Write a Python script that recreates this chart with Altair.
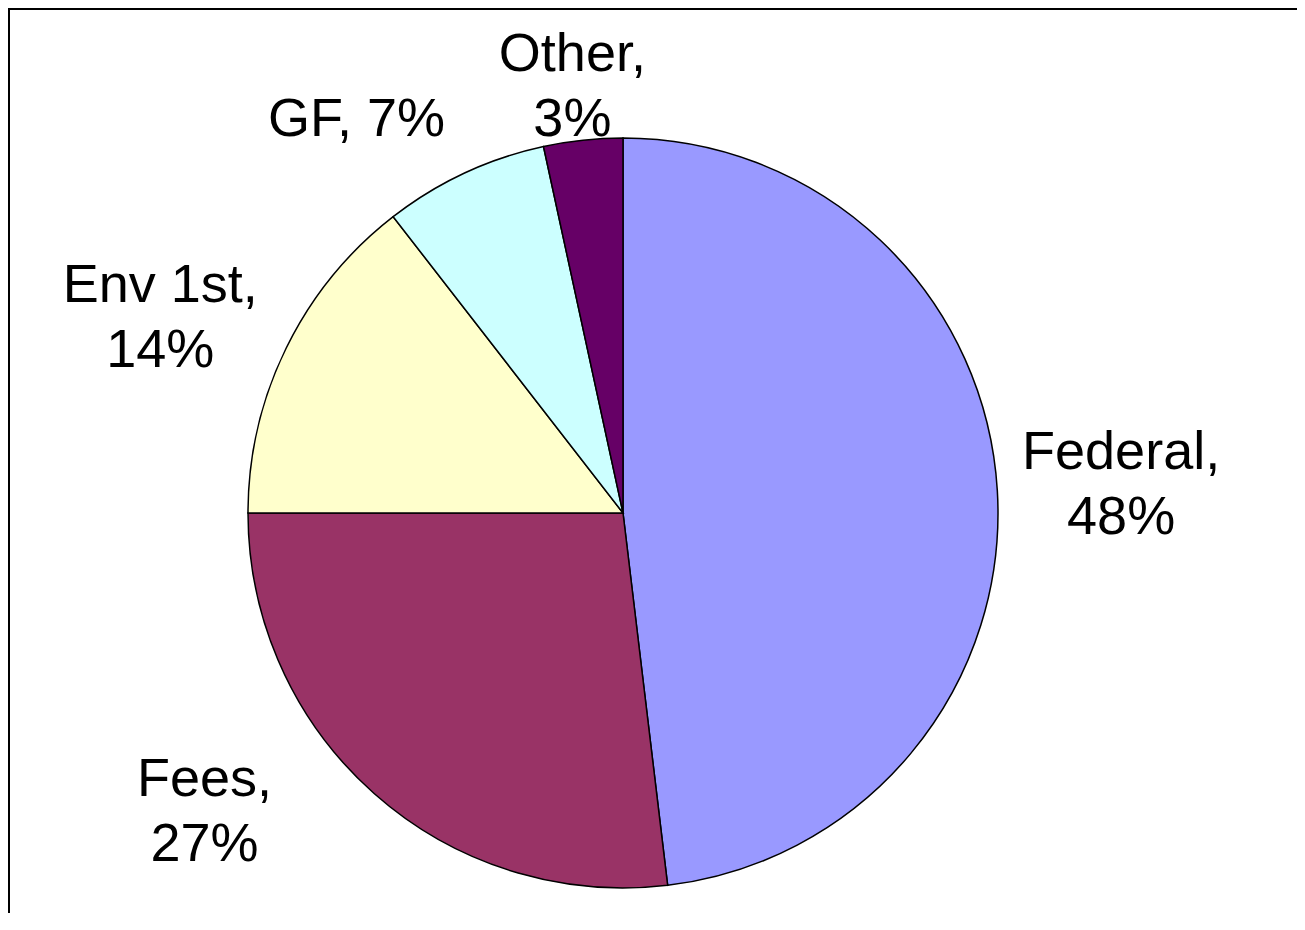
import altair as alt
import pandas as pd

categories = ["Federal", "Fees", "Env 1st", "GF", "Other"]
values = [48.1, 26.9, 14.5, 7.1, 3.4]
labels = ["Federal,\n48%", "Fees,\n27%", "Env 1st,\n14%", "GF, 7%", "Other,\n3%"]
colors = ["#9999FF", "#993366", "#FFFFCC", "#CCFFFF", "#660066"]

df = pd.DataFrame({
    "cat": categories,
    "value": values,
    "label": labels,
    "idx": list(range(len(categories))),
})

W, H = 1289, 905
CX, CY = 615, 505
R = 375
FONT = "Liberation Sans"

base = alt.Chart(df).encode(
    theta=alt.Theta("value:Q", stack=True),
    order=alt.Order("idx:Q"),
)

pie = base.mark_arc(radius=R, stroke="black", strokeWidth=1.5).encode(
    x=alt.value(CX),
    y=alt.value(CY),
    color=alt.Color("cat:N", scale=alt.Scale(domain=categories, range=colors), legend=None),
)

# label layout: (radius, dx, dy)
layout = {
    "Federal": (499, 0, -30),
    "Fees": (400, -153, -32),
    "Env 1st": (443, -65, -32),
    "GF": (436, -82, 2),
    "Other": (428, -5, -32),
}

text_layers = []
for cat in categories:
    r, dx, dy = layout[cat]
    t = base.mark_text(
        radius=r, dx=dx, dy=dy, align="center", baseline="middle",
        font=FONT, fontSize=54, lineBreak="\n", lineHeight=65, color="black",
    ).encode(
        x=alt.value(CX),
        y=alt.value(CY),
        text=alt.condition(alt.datum.cat == cat, alt.Text("label:N"), alt.value("")),
    )
    text_layers.append(t)

frame_df = pd.DataFrame({"a": [0]})
top_rule = alt.Chart(frame_df).mark_rule(color="black", strokeWidth=2).encode(
    x=alt.value(0), x2=alt.value(W), y=alt.value(1)
)
left_rule = alt.Chart(frame_df).mark_rule(color="black", strokeWidth=2).encode(
    x=alt.value(1), y=alt.value(0), y2=alt.value(H)
)

chart = alt.layer(pie, *text_layers, top_rule, left_rule).properties(
    width=W, height=H, padding=0,
    autosize=alt.AutoSizeParams(type="none"),
).configure_view(stroke=None)

chart.save("out.html", embed_options={"renderer": "svg", "actions": False})
